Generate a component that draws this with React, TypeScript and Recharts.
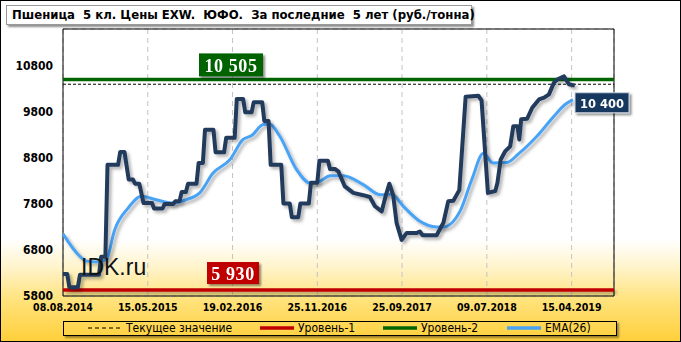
import React from "react";
import {
  LineChart,
  Line,
  XAxis,
  YAxis,
  CartesianGrid,
  ReferenceLine,
  ReferenceArea,
} from "recharts";

// weekly points, every 40th is labelled
const DATE_TICKS = [0, 40, 80, 120, 160, 200, 240];
const DATE_LABELS = [
  "08.08.2014",
  "15.05.2015",
  "19.02.2016",
  "25.11.2016",
  "25.09.2017",
  "09.07.2018",
  "15.04.2019",
];
const Y_TICKS = [5800, 6800, 7800, 8800, 9800, 10800];

// price (руб./тонна), vertices of the step line
const PRICE_WEEK = [
  0, 2, 3, 7, 8, 17, 18, 20, 21, 26, 27, 29, 31, 33, 34, 36, 38, 42, 43, 47,
  48, 52, 53, 55, 56, 58, 59, 63, 64, 66, 67, 71, 72, 76, 77, 81, 82, 85, 86,
  89, 90, 94, 95, 97, 98, 103, 104, 107, 108, 111, 112, 116, 117, 120, 121,
  125, 126, 128.3, 130, 133, 137, 141.7, 144.8, 147.2, 150.4, 152.4, 154,
  155.8, 157.4, 159.8, 162.2, 167, 168.4, 169.7, 176.3, 179.5, 181.8, 184.2,
  187, 190, 196, 197.5, 200.5, 204, 205, 206.5, 208.6, 211, 212.5, 214.5,
  215.3, 216.2, 219, 221.4, 224.6, 227, 229.3, 231.6, 233.2, 236.4, 238.7,
  241.5,
];
const PRICE_VALUE = [
  6280, 6280, 5990, 5990, 6260, 6260, 6650, 6650, 8650, 8650, 8930, 8930,
  8330, 8330, 8240, 8240, 7820, 7820, 7700, 7700, 7800, 7800, 7860, 7860,
  8060, 8060, 8240, 8240, 8690, 8690, 9410, 9410, 8920, 8920, 9235, 9235,
  10080, 10080, 9790, 9790, 10010, 10010, 9600, 9600, 8650, 8650, 7810, 7810,
  7510, 7510, 7810, 7810, 8260, 8260, 8740, 8740, 8560, 8560, 8500, 8180,
  8040, 7990, 7950, 7750, 7640, 8000, 8240, 7990, 7390, 7020, 7170, 7170,
  7200, 7120, 7120, 7390, 7860, 7870, 8100, 10130, 10150, 10050, 8040, 8080,
  8260, 8760, 8940, 9050, 9490, 9490, 9200, 9640, 9650, 9890, 10070, 10110,
  10180, 10430, 10500, 10570, 10400, 10370,
];

// EMA(26)
const EMA_WEEK = [
  0, 8, 11, 17, 20.5, 24.4, 30.7, 37, 44, 52, 58, 64.5, 70.8, 78.7, 85, 89,
  94.5, 97.6, 102.3, 110.2, 116.5, 121.2, 126, 132.2, 141.7, 149.6, 155.1,
  160.6, 168.4, 176.3, 179.5, 187.3, 192.9, 198.3, 203, 209.4, 214.9, 223.6,
  231.4, 236.9, 240.6,
];
const EMA_VALUE = [
  7150, 6660, 6560, 6540, 6600, 7240, 7710, 7965, 7890, 7820, 7890, 8040,
  8470, 8760, 9200, 9285, 9524, 9530, 9270, 8546, 8257, 8293, 8410, 8410,
  8220, 8002, 8010, 7748, 7422, 7300, 7300, 7639, 8328, 8893, 8691, 8700,
  8887, 9270, 9691, 9959, 10067,
];

const CURRENT = 10400;
const LEVEL_1 = 5930;
const LEVEL_2 = 10505;

const priceData = PRICE_WEEK.map((w, i) => ({ week: w, price: PRICE_VALUE[i] }));
const emaData = EMA_WEEK.map((w, i) => ({ week: w, ema: EMA_VALUE[i] }));

const AXIS_FONT = "'DejaVu Sans Condensed', 'Liberation Sans', Arial, sans-serif";
const TEXT_FONT = "Tahoma, 'DejaVu Sans Condensed', 'DejaVu Sans', sans-serif";

function tagRenderer(
  text: string,
  fill: string,
  dx: number,
  dy: number,
  w: number,
  h: number,
  serif: boolean
) {
  return (props: any) => {
    const vb = props.viewBox || { x: 0, y: 0 };
    const cx = vb.x + dx;
    const cy = vb.y + dy;
    return (
      <g filter="url(#tagShadow)">
        <rect
          x={cx - w / 2}
          y={cy - h / 2}
          width={w}
          height={h}
          fill={fill}
          stroke={serif ? "none" : "#c9d3df"}
          strokeWidth={1}
        />
        <text
          x={cx}
          y={cy + 1}
          textAnchor="middle"
          dominantBaseline="central"
          fill="#fff"
          fontWeight="bold"
          fontFamily={serif ? "'Liberation Serif', 'Times New Roman', serif" : "'DejaVu Sans', sans-serif"}
          fontSize={serif ? 18 : 11.5}
          letterSpacing={serif ? 0.6 : 0}
        >
          {text}
        </text>
      </g>
    );
  };
}

function LegendLine({ color, dashed }: { color: string; dashed?: boolean }) {
  return (
    <svg width={34} height={6} style={{ marginRight: 4 }}>
      <line
        x1={0}
        y1={3}
        x2={34}
        y2={3}
        stroke={color}
        strokeWidth={dashed ? 1 : 3.5}
        strokeDasharray={dashed ? "4 3" : undefined}
      />
    </svg>
  );
}

const legendItems = [
  { name: "Текущее значение", color: "#000", dashed: true, left: 88 },
  { name: "Уровень-1", color: "#c00000", left: 260 },
  { name: "Уровень-2", color: "#006400", left: 383 },
  { name: "EMA(26)", color: "#4aa3f5", left: 507 },
];

export default function App() {
  return (
    <div
      style={{
        position: "absolute",
        left: 0,
        top: 0,
        width: 681,
        height: 342,
        background:
          "linear-gradient(to bottom, #ffffff 0%, #ffffff 70%, #fff4cc 78%, #ffe27a 88%, #ffcf3a 100%)",
        overflow: "hidden",
      }}
    >
      <LineChart
        width={681}
        height={342}
        margin={{ top: 29, right: 0, bottom: 0, left: 0 }}
      >
        <defs>
          <filter id="lineShadow" filterUnits="userSpaceOnUse" x={0} y={0} width={681} height={342}>
            <feDropShadow dx={2.5} dy={2.5} stdDeviation={1.4} floodColor="#000" floodOpacity={0.3} />
          </filter>
          <filter id="tagShadow" filterUnits="userSpaceOnUse" x={0} y={0} width={681} height={342}>
            <feDropShadow dx={2} dy={2} stdDeviation={1.2} floodColor="#000" floodOpacity={0.45} />
          </filter>
        </defs>
        <CartesianGrid stroke="#c4c4c4" strokeDasharray="5 4" />
        <XAxis
          dataKey="week"
          type="number"
          domain={[0, 260]}
          ticks={DATE_TICKS}
          tickFormatter={(v: number) => DATE_LABELS[DATE_TICKS.indexOf(v)] ?? ""}
          height={46}
          tickLine={false}
          axisLine={false}
          allowDuplicatedCategory={false}
          tick={{ fill: "#000", fontSize: 10.5, fontWeight: "bold", fontFamily: AXIS_FONT }}
          interval={0}
        />
        <YAxis
          yAxisId="left"
          domain={[5800, 11600]}
          ticks={Y_TICKS}
          width={63}
          tickLine={false}
          axisLine={false}
          tickMargin={4}
          tick={{ fill: "#000", fontSize: 12, fontWeight: "bold", fontFamily: AXIS_FONT }}
        />
        <YAxis
          yAxisId="right"
          orientation="right"
          domain={[5800, 11600]}
          ticks={Y_TICKS}
          width={67}
          tickLine={false}
          axisLine={false}
          tickMargin={6}
          tick={{ fill: "#000", fontSize: 12, fontWeight: "bold", fontFamily: AXIS_FONT, textAnchor: "start" }}
        />
        <ReferenceArea
          yAxisId="left"
          x1={0}
          x2={260}
          y1={5800}
          y2={11600}
          fill="none"
          fillOpacity={0}
          stroke="#000"
          strokeWidth={1}
          ifOverflow="visible"
        />
        <ReferenceLine
          yAxisId="left"
          y={LEVEL_1}
          stroke="#c00000"
          strokeWidth={3.5}
          filter="url(#lineShadow)"
          label={tagRenderer("5 930", "#c00000", 170, -17, 52, 22, true)}
        />
        <ReferenceLine
          yAxisId="left"
          y={LEVEL_2}
          stroke="#006400"
          strokeWidth={3.5}
          label={tagRenderer("10 505", "#006400", 168, -14.5, 64, 23, true)}
        />
        <ReferenceLine
          yAxisId="left"
          y={CURRENT}
          stroke="#000"
          strokeWidth={1}
          strokeDasharray="3 2"
        />
        <Line
          yAxisId="left"
          data={emaData}
          dataKey="ema"
          type="monotone"
          stroke="#4aa3f5"
          strokeWidth={3}
          dot={false}
          filter="url(#lineShadow)"
          isAnimationActive={false}
        />
        <Line
          yAxisId="left"
          data={priceData}
          dataKey="price"
          type="linear"
          stroke="#213a5c"
          strokeWidth={4}
          strokeLinejoin="round"
          dot={false}
          filter="url(#lineShadow)"
          isAnimationActive={false}
        />
        <ReferenceLine
          yAxisId="left"
          y={CURRENT}
          stroke="none"
          label={tagRenderer("10 400", "#17375e", 539, 18.5, 54, 20, false)}
        />
      </LineChart>

      <div
        style={{
          position: "absolute",
          left: 81,
          top: 255.5,
          fontFamily: "'Liberation Sans', Arial, sans-serif",
          fontSize: 23,
          color: "#111",
          lineHeight: "23px",
        }}
      >
        IDK.ru
      </div>

      <div
        style={{
          position: "absolute",
          left: 6,
          top: 5,
          width: 466,
          height: 20,
          boxSizing: "border-box",
          background: "#fff",
          border: "1px solid #9a9a9a",
          boxShadow: "2px 2px 2px rgba(0,0,0,0.45)",
          fontFamily: TEXT_FONT,
          fontWeight: "bold",
          fontSize: 13,
          lineHeight: "18px",
          paddingLeft: 5,
          whiteSpace: "pre",
          color: "#000",
        }}
      >
        {"Пшеница  5 кл. Цены EXW.  ЮФО.  За последние  5 лет (руб./тонна)"}
      </div>

      <div
        style={{
          position: "absolute",
          left: 63,
          top: 321,
          width: 554,
          height: 15,
          boxSizing: "border-box",
          border: "1.5px solid #000",
          boxShadow: "2px 2px 2px rgba(0,0,0,0.4)",
        }}
      >
        {legendItems.map((it) => (
          <div
            key={it.name}
            style={{
              position: "absolute",
              left: it.left - 64,
              top: -1,
              display: "flex",
              alignItems: "center",
              height: 14,
              fontFamily: TEXT_FONT,
              fontSize: 12,
              color: "#000",
              whiteSpace: "nowrap",
            }}
          >
            <LegendLine color={it.color} dashed={it.dashed} />
            {it.name}
          </div>
        ))}
      </div>

      <div
        style={{
          position: "absolute",
          inset: 0,
          border: "1px solid #000",
          pointerEvents: "none",
        }}
      />
    </div>
  );
}
